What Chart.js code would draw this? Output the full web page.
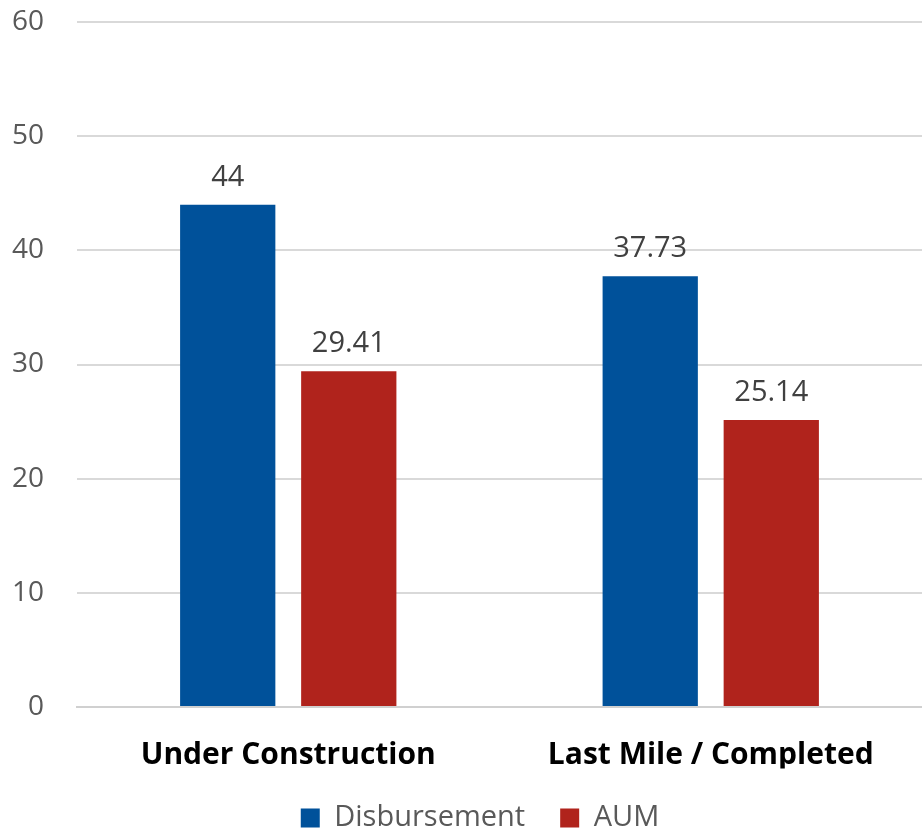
<!DOCTYPE html>
<html>
<head>
<meta charset="utf-8">
<script src="https://cdn.jsdelivr.net/npm/chart.js@4/dist/chart.umd.min.js"></script>
<style>
    html, body { margin: 0; padding: 0; background: #fff; }
    #wrap { width: 922px; height: 834px; }
</style>
</head>
<body>
<div id="wrap"><canvas id="barChart" width="922" height="834"></canvas></div>
<script>
const categories = ['Under Construction', 'Last Mile / Completed'];
const disbursement = [44, 37.73];
const aum = [29.41, 25.14];
const yTicks = [0, 10, 20, 30, 40, 50, 60];

const FONT = "'Open Sans', 'Noto Sans', sans-serif";

// draws the value above every bar, and the y tick labels
// (drawn here so they are not clipped to the narrow y scale box)
const valueLabels = {
    id: 'valueLabels',
    afterDatasetsDraw(chart) {
        const ctx = chart.ctx;
        ctx.save();
        ctx.font = `29px ${FONT}`;
        ctx.fillStyle = '#404040';
        ctx.textAlign = 'center';
        ctx.textBaseline = 'alphabetic';
        chart.data.datasets.forEach((ds, i) => {
            chart.getDatasetMeta(i).data.forEach((bar, j) => {
                ctx.fillText(String(ds.data[j]), bar.x, bar.y - 19);
            });
        });
        const y = chart.scales.y;
        ctx.font = `28px ${FONT}`;
        ctx.fillStyle = '#595959';
        ctx.textAlign = 'right';
        ctx.textBaseline = 'middle';
        yTicks.forEach(v => ctx.fillText(String(v), 44, y.getPixelForValue(v)));
        ctx.restore();
    }
};

new Chart(document.getElementById('barChart').getContext('2d'), {
    type: 'bar',
    data: {
        labels: categories,
        datasets: [{
            label: 'Disbursement',
            data: disbursement,
            backgroundColor: '#00519A',
            categoryPercentage: 0.573,
            barPercentage: 0.787,
        }, {
            label: 'AUM',
            data: aum,
            backgroundColor: '#B0231C',
            categoryPercentage: 0.573,
            barPercentage: 0.787,
        }]
    },
    options: {
        responsive: false,
        animation: false,
        layout: { padding: { top: 22, right: 0, bottom: -8.5, left: 38 } },
        plugins: {
            legend: {
                position: 'bottom',
                labels: {
                    boxWidth: 19,
                    boxHeight: 19,
                    padding: 35,
                    color: '#595959',
                    font: { family: FONT, size: 29 },
                },
            },
            tooltip: { enabled: false },
        },
        scales: {
            x: {
                afterFit(scale) { scale.height = 61.5; },
                grid: { display: false, drawTicks: false },
                border: { color: '#d0d0d0', width: 2 },
                ticks: {
                    color: '#000',
                    padding: 30,
                    font: { family: FONT, size: 30, weight: 'bold' },
                },
            },
            y: {
                min: 0,
                max: 60,
                afterBuildTicks(scale) {
                    scale.ticks = yTicks.map(v => ({ value: v }));
                },
                afterFit(scale) { scale.width = 39; },
                grid: { color: '#d9d9d9', lineWidth: 2, drawTicks: false },
                border: { display: false },
                ticks: { display: false },
            },
        },
    },
    plugins: [valueLabels],
});
</script>
</body>
</html>
